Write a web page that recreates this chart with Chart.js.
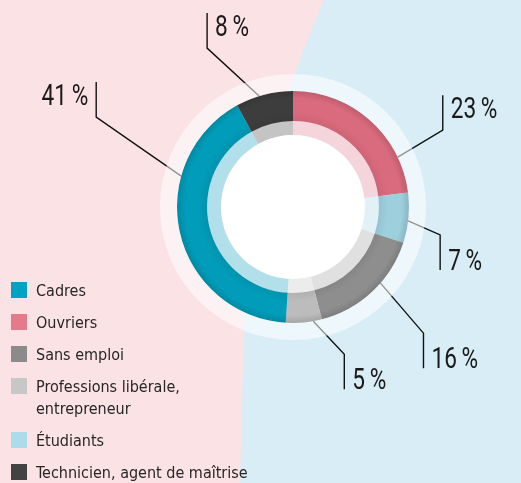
<!DOCTYPE html>
<html>
<head>
<meta charset="utf-8">
<script src="https://cdn.jsdelivr.net/npm/chart.js@4.4.1/dist/chart.umd.min.js"></script>
<style>
  html, body { margin: 0; padding: 0; }
  body {
    width: 521px; height: 483px; overflow: hidden; position: relative;
    background: #fae2e5;
    font-family: "DejaVu Sans Condensed", "Liberation Sans Narrow", sans-serif;
  }
  #chartRepartition { position: absolute; left: 0; top: 0; }
  #legend { position: absolute; left: 11px; top: 280px; margin: 0; padding: 0; list-style: none; }
  #legend li { display: flex; align-items: flex-start; font-size: 16px; line-height: 22px; color: #262626; margin-bottom: 10px; }
  #legend .sw { width: 16px; height: 16px; flex: none; margin-top: 2px; margin-right: 9px; }
</style>
</head>
<body>
<canvas id="chartRepartition" width="521" height="483"></canvas>
<ul id="legend"></ul>
<script>
// donnees (ordre horaire a partir de midi)
const categories = ["Ouvriers", "Étudiants", "Sans emploi", "Professions libérale,\nentrepreneur", "Cadres", "Technicien, agent de maîtrise"];
const values = [23, 7, 16, 5, 41, 8];
const ringColors = ["#da6a7d", "#9dcfdc", "#8e8e8e", "#bcbcbc", "#009cb9", "#3d3d3d"];
const innerColors = ["#f6d4db", "#e3f1f6", "#e0e0e0", "#ececec", "#b1e0eb", "#c4c4c4"];
const legendColors = ["#e57a8b", "#acdcea", "#8b8b8b", "#c7c7c7", "#00a3c4", "#434343"];
const legendOrder = [4, 0, 2, 3, 1, 5];

// traits de rappel : position dans l'arc, coude, longueur du trait vertical, cote du texte
const leaders = [
  { at: 0.78, dx: 45, dy: -27, len: -35, side: 1 },
  { at: 0.56, dx: 32, dy: 14, len: 35, side: 1 },
  { at: 0.40, dx: 43, dy: 50, len: 35, side: 1 },
  { at: 0.24, dx: 31, dy: 33, len: 35, side: 1 },
  { at: 0.69, dx: -85, dy: -59, len: -35, side: -1 },
  { at: 0.41, dx: -52, dy: -48, len: -35, side: 1 }
];

const labelFont = '400 29px Roboto, "DejaVu Sans Condensed", sans-serif';
const labelSquash = 0.78;

// legende HTML
const legendEl = document.getElementById("legend");
legendOrder.forEach(i => {
  const li = document.createElement("li");
  const sw = document.createElement("span");
  sw.className = "sw";
  sw.style.background = legendColors[i];
  const txt = document.createElement("span");
  txt.innerHTML = categories[i].replace("\n", "<br>");
  li.appendChild(sw);
  li.appendChild(txt);
  legendEl.appendChild(li);
});

function leaderPoints(arc, cfg) {
  const a = arc.startAngle + cfg.at * (arc.endAngle - arc.startAngle);
  const x0 = arc.x + Math.cos(a) * arc.outerRadius;
  const y0 = arc.y + Math.sin(a) * arc.outerRadius;
  const x1 = x0 + cfg.dx;
  const y1 = y0 + cfg.dy;
  return { x0, y0, x1, y1, y2: y1 + cfg.len };
}

// fond rose / bleu
const fondPlugin = {
  id: "fond",
  beforeDraw(chart) {
    const c = chart.ctx;
    c.save();
    c.fillStyle = "#fae2e5";
    c.fillRect(0, 0, chart.width, chart.height);
    c.fillStyle = "#d9edf6";
    c.beginPath();
    c.moveTo(324, 0);
    c.bezierCurveTo(290, 80, 246, 200, 244, 330);
    c.lineTo(240, chart.height);
    c.lineTo(chart.width, chart.height);
    c.lineTo(chart.width, 0);
    c.closePath();
    c.fill();
    c.restore();
  }
};

const rappelPlugin = {
  id: "rappel",
  beforeDatasetsDraw(chart) {
    const c = chart.ctx;
    const arcs = chart.getDatasetMeta(1).data;
    c.save();
    c.strokeStyle = "#111";
    c.lineWidth = 1.4;
    arcs.forEach((arc, i) => {
      const p = leaderPoints(arc, leaders[i]);
      c.beginPath();
      c.moveTo(p.x0, p.y0);
      c.lineTo(p.x1, p.y1);
      c.lineTo(p.x1, p.y2);
      c.stroke();
    });
    c.restore();
  },
  afterDatasetsDraw(chart) {
    const c = chart.ctx;
    const ring = chart.getDatasetMeta(1).data;
    const inner = chart.getDatasetMeta(2).data;
    if (!ring.length) return;
    const cx = ring[0].x, cy = ring[0].y;
    const rIn = ring[0].innerRadius, rOut = ring[0].outerRadius;

    c.save();
    // ombrage de l'anneau colore
    c.beginPath();
    c.arc(cx, cy, rOut, 0, Math.PI * 2);
    c.arc(cx, cy, rIn, 0, Math.PI * 2, true);
    const g = c.createRadialGradient(cx, cy, rIn, cx, cy, rOut);
    g.addColorStop(0, "rgba(0,0,0,0.06)");
    g.addColorStop(0.3, "rgba(0,0,0,0)");
    g.addColorStop(0.75, "rgba(0,0,0,0)");
    g.addColorStop(1, "rgba(0,0,0,0.12)");
    c.fillStyle = g;
    c.fill();

    // centre blanc
    c.beginPath();
    c.arc(cx, cy, inner[0].innerRadius, 0, Math.PI * 2);
    c.fillStyle = "#ffffff";
    c.fill();

    // pourcentages
    c.font = labelFont;
    c.fillStyle = "#1a1a1a";
    c.textBaseline = "alphabetic";
    ring.forEach((arc, i) => {
      const cfg = leaders[i];
      const p = leaderPoints(arc, cfg);
      const txt = values[i] + "\u2009%";
      const x = p.x1 + cfg.side * 8;
      const y = cfg.len < 0 ? p.y2 + 23 : p.y2;
      c.save();
      c.translate(x, y);
      c.scale(labelSquash, 1);
      c.textAlign = cfg.side > 0 ? "left" : "right";
      c.fillText(txt, 0, 0);
      c.restore();
    });
    c.restore();
  }
};

const ctx = document.getElementById("chartRepartition").getContext("2d");
new Chart(ctx, {
  type: "doughnut",
  data: {
    labels: categories,
    datasets: [
      {
        label: "halo",
        data: [100],
        backgroundColor: "rgba(255,255,255,0.55)",
        borderWidth: 0,
        weight: 17
      },
      {
        label: "Répartition",
        data: values,
        backgroundColor: ringColors,
        borderWidth: 0,
        weight: 30
      },
      {
        label: "Répartition (intérieur)",
        data: values,
        backgroundColor: innerColors,
        borderWidth: 0,
        weight: 14
      }
    ]
  },
  options: {
    responsive: false,
    animation: false,
    events: [],
    cutout: "54.1%",
    hoverOffset: 0,
    layout: { padding: { left: 160, right: 95, top: 74, bottom: 143 } },
    plugins: {
      legend: { display: false },
      tooltip: { enabled: false }
    }
  },
  plugins: [fondPlugin, rappelPlugin]
});
</script>
</body>
</html>
